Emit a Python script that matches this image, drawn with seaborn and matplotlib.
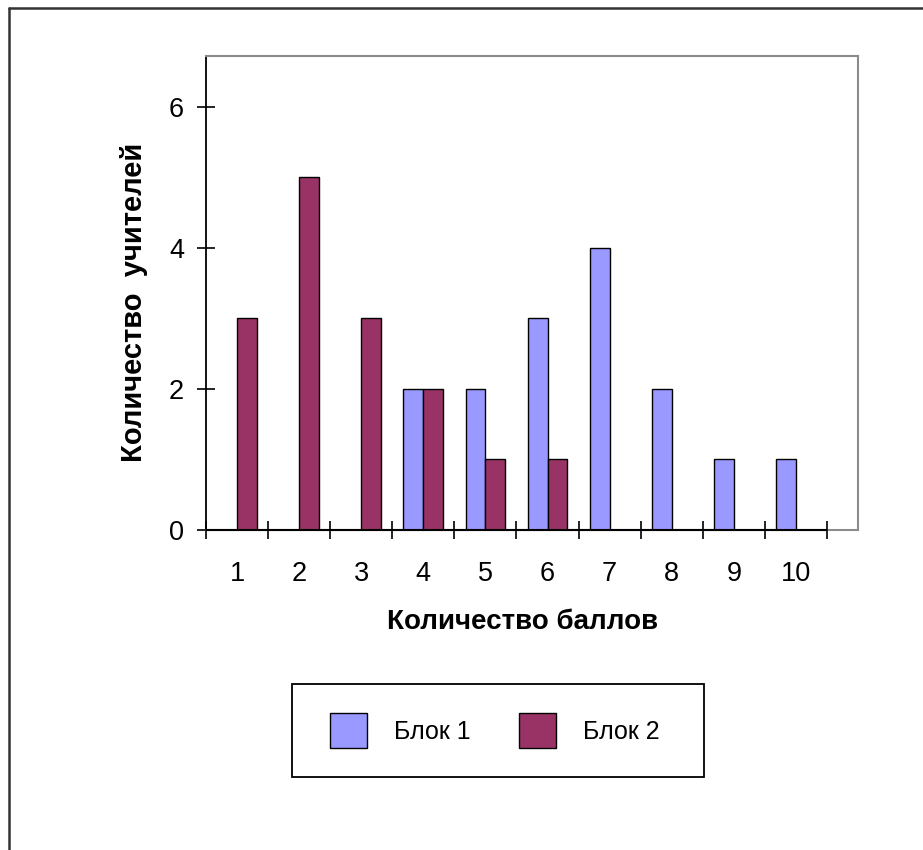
import pandas as pd
import matplotlib.pyplot as plt
import matplotlib.patches as mpatches
from matplotlib.lines import Line2D
import seaborn as sns

scores = ["1", "2", "3", "4", "5", "6", "7", "8", "9", "10"]
block1 = [0, 0, 0, 2, 2, 3, 4, 2, 1, 1]
block2 = [3, 5, 3, 2, 1, 1, 0, 0, 0, 0]
series_names = ["Блок 1", "Блок 2"]
colors = ["#9999FF", "#993366"]
y_ticks = [0, 2, 4, 6]

data = pd.DataFrame({
    "score": scores * 2,
    "value": block1 + block2,
    "block": [series_names[0]] * len(scores) + [series_names[1]] * len(scores),
})

sns.set_theme(style="white")
plt.rcParams["font.family"] = ["Liberation Sans", "DejaVu Sans"]
plt.rcParams["text.color"] = "black"
plt.rcParams["axes.labelcolor"] = "black"
plt.rcParams["xtick.color"] = "black"
plt.rcParams["ytick.color"] = "black"

W, H = 923, 850
fig = plt.figure(figsize=(W / 100, H / 100), dpi=100)
fig.patch.set_facecolor("white")
ax = fig.add_axes([206 / W, 1 - 530 / H, (858 - 206) / W, (530 - 55.7) / H])

sns.barplot(data=data, x="score", y="value", hue="block", order=scores,
            hue_order=series_names, palette=colors, width=0.64,
            edgecolor="black", linewidth=1, saturation=1, ax=ax)

handles, labels = ax.get_legend_handles_labels()
if ax.legend_ is not None:
    ax.legend_.remove()

ax.set_xlim(-0.5, 10.0)
ax.set_ylim(0, 6.72)

# plot area frame (grey) with black axes lines
for side in ["top", "right", "bottom"]:
    ax.spines[side].set_color("#8c8c8c")
    ax.spines[side].set_linewidth(1.5)
ax.spines["left"].set_color("black")
ax.spines["left"].set_linewidth(1.3)
ax.axhline(0, xmin=0, xmax=10 / 10.5, color="black", lw=1.5, zorder=5, clip_on=False)

ax.set_yticks(y_ticks)
ax.set_yticklabels([str(t) for t in y_ticks])
ax.tick_params(axis="y", direction="inout", length=13.5, width=1.2, color="black",
               pad=9, labelsize=19.5, labelcolor="black", left=True)
ax.set_xticks(range(len(scores)))
ax.set_xticklabels(scores)
ax.set_xticks([i - 0.5 for i in range(len(scores) + 1)], minor=True)
ax.tick_params(axis="x", which="major", length=0, pad=22.5, labelsize=19.5,
               labelcolor="black")
ax.tick_params(axis="x", which="minor", direction="inout", length=13.5, width=1.2,
               color="black", bottom=True)

ax.set_xlabel("Количество баллов", fontsize=20, fontweight="bold", color="black")
ax.set_ylabel("Количество  учителей", fontsize=21, fontweight="bold", color="black")
ax.xaxis.label.set_va("center")
ax.yaxis.label.set_va("center")
ax.xaxis.set_label_coords(0.485, -0.194)
ax.yaxis.set_label_coords(-0.111, 0.479)

# legend with a plain rectangular box
fig.legend(handles, labels, loc="center", bbox_to_anchor=(494.5 / W, 1 - 730.5 / H),
           ncol=2, frameon=False, fontsize=18, handlelength=1.5, handleheight=1.72,
           handletextpad=1.05, columnspacing=1.95)
fig.add_artist(mpatches.Rectangle((292 / W, 1 - 777 / H), (704 - 292) / W, (777 - 684) / H,
                                  transform=fig.transFigure, fill=False,
                                  edgecolor="black", linewidth=1.3))

# chart border (top and left edges visible)
fig.add_artist(Line2D([8.5 / W, 1], [1 - 7.5 / H, 1 - 7.5 / H], transform=fig.transFigure,
                      color="#333333", lw=1.8))
fig.add_artist(Line2D([8.5 / W, 8.5 / W], [0, 1 - 7.5 / H], transform=fig.transFigure,
                      color="#333333", lw=1.8))

fig.savefig("out.png", dpi=100)
